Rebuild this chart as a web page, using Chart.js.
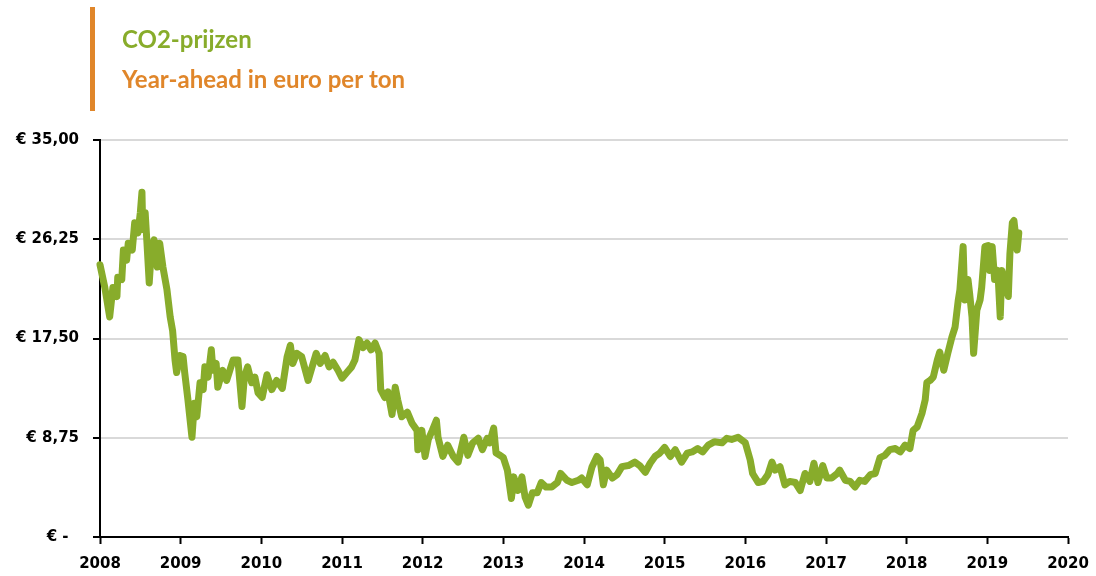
<!DOCTYPE html>
<html>
<head>
<meta charset="utf-8">
<script src="https://cdn.jsdelivr.net/npm/chart.js@4/dist/chart.umd.min.js"></script>
<style>
  html, body { margin: 0; padding: 0; background: #fff; }
  #wrap { width: 1096px; height: 576px; position: relative; }
</style>
</head>
<body>
<div id="wrap"><canvas id="grafico" width="1096" height="576"></canvas></div>
<script>
// CO2-prijzen, year-ahead (euro per ton)
const jaren = [
  2008.00, 2008.06, 2008.12, 2008.16, 2008.21, 2008.22, 2008.27, 2008.29, 2008.33, 2008.35,
  2008.40, 2008.43, 2008.47, 2008.50, 2008.52, 2008.53, 2008.56, 2008.58, 2008.61, 2008.64,
  2008.67, 2008.71, 2008.74, 2008.78, 2008.83, 2008.87, 2008.90, 2008.93, 2008.95, 2008.99,
  2009.03, 2009.05, 2009.09, 2009.14, 2009.17, 2009.20, 2009.24, 2009.28, 2009.30, 2009.34,
  2009.38, 2009.40, 2009.44, 2009.46, 2009.52, 2009.57, 2009.61, 2009.65, 2009.71, 2009.76,
  2009.79, 2009.83, 2009.88, 2009.92, 2009.96, 2010.01, 2010.07, 2010.13, 2010.19, 2010.26,
  2010.32, 2010.36, 2010.39, 2010.44, 2010.50, 2010.58, 2010.63, 2010.68, 2010.73, 2010.79,
  2010.84, 2010.89, 2010.95, 2011.00, 2011.06, 2011.12, 2011.16, 2011.21, 2011.26, 2011.31,
  2011.36, 2011.41, 2011.46, 2011.48, 2011.53, 2011.57, 2011.62, 2011.66, 2011.69, 2011.74,
  2011.81, 2011.87, 2011.93, 2011.94, 2011.99, 2012.03, 2012.07, 2012.12, 2012.17, 2012.19,
  2012.25, 2012.31, 2012.38, 2012.44, 2012.51, 2012.56, 2012.62, 2012.69, 2012.74, 2012.80,
  2012.83, 2012.88, 2012.91, 2012.96, 2013.00, 2013.05, 2013.10, 2013.13, 2013.18, 2013.23,
  2013.27, 2013.31, 2013.36, 2013.42, 2013.47, 2013.53, 2013.60, 2013.67, 2013.71, 2013.79,
  2013.85, 2013.93, 2013.97, 2014.04, 2014.10, 2014.16, 2014.20, 2014.24, 2014.28, 2014.35,
  2014.41, 2014.47, 2014.55, 2014.63, 2014.69, 2014.76, 2014.82, 2014.88, 2014.94, 2015.00,
  2015.07, 2015.13, 2015.21, 2015.28, 2015.34, 2015.41, 2015.47, 2015.54, 2015.62, 2015.71,
  2015.77, 2015.83, 2015.91, 2016.00, 2016.06, 2016.09, 2016.16, 2016.22, 2016.28, 2016.33,
  2016.37, 2016.43, 2016.49, 2016.55, 2016.62, 2016.68, 2016.74, 2016.80, 2016.85, 2016.90,
  2016.96, 2017.01, 2017.07, 2017.14, 2017.17, 2017.24, 2017.30, 2017.36, 2017.42, 2017.48,
  2017.55, 2017.61, 2017.67, 2017.73, 2017.79, 2017.86, 2017.92, 2017.98, 2018.04, 2018.08,
  2018.13, 2018.19, 2018.23, 2018.25, 2018.29, 2018.33, 2018.38, 2018.41, 2018.46, 2018.51,
  2018.56, 2018.60, 2018.64, 2018.66, 2018.70, 2018.72, 2018.76, 2018.78, 2018.81, 2018.83,
  2018.87, 2018.91, 2018.93, 2018.97, 2019.01, 2019.03, 2019.06, 2019.09, 2019.13, 2019.16,
  2019.18, 2019.22, 2019.26, 2019.28, 2019.31, 2019.33, 2019.37, 2019.39
];
const prijzen = [
  24.0, 22.0, 19.4, 22.0, 21.2, 22.9, 22.7, 25.3, 24.4, 25.9,
  25.3, 27.7, 26.8, 28.6, 30.4, 27.1, 28.6, 26.2, 22.4, 25.6,
  26.2, 23.8, 25.9, 23.8, 21.8, 19.4, 18.2, 15.6, 14.5, 16.0,
  15.9, 14.5, 12.1, 8.8, 11.8, 10.6, 13.6, 13.0, 15.0, 14.1,
  16.5, 14.7, 15.3, 13.2, 14.7, 13.8, 14.7, 15.6, 15.6, 11.5,
  14.1, 15.0, 13.6, 14.1, 12.7, 12.3, 14.3, 13.0, 13.8, 13.1,
  15.9, 16.9, 15.3, 16.2, 15.9, 13.8, 15.0, 16.2, 15.3, 16.0,
  15.0, 15.4, 14.7, 14.0, 14.5, 15.0, 15.6, 17.4, 16.7, 17.1,
  16.5, 17.1, 16.2, 13.0, 12.3, 12.8, 10.8, 13.2, 12.1, 10.6,
  11.0, 10.0, 9.4, 7.7, 9.4, 7.1, 8.6, 9.4, 10.3, 8.8,
  7.1, 8.1, 7.1, 6.6, 8.8, 7.2, 8.3, 8.7, 7.7, 8.7,
  8.3, 9.6, 7.4, 7.2, 7.0, 5.9, 3.4, 5.3, 4.1, 5.3,
  3.5, 2.8, 3.9, 3.9, 4.8, 4.4, 4.4, 4.8, 5.6, 5.0,
  4.8, 5.0, 5.2, 4.6, 6.2, 7.1, 6.8, 4.6, 5.9, 5.2,
  5.5, 6.2, 6.3, 6.6, 6.3, 5.7, 6.5, 7.1, 7.4, 7.9,
  7.1, 7.7, 6.6, 7.4, 7.5, 7.8, 7.5, 8.1, 8.4, 8.3,
  8.7, 8.6, 8.8, 8.3, 6.8, 5.6, 4.8, 4.9, 5.5, 6.6,
  5.9, 6.2, 4.6, 4.9, 4.8, 4.1, 5.6, 4.9, 6.5, 4.8,
  6.3, 5.2, 5.2, 5.6, 5.9, 5.0, 4.9, 4.4, 5.0, 4.9,
  5.5, 5.6, 7.0, 7.2, 7.7, 7.8, 7.5, 8.1, 7.8, 9.4,
  9.7, 10.9, 12.1, 13.6, 13.8, 14.1, 15.6, 16.3, 14.7, 16.2,
  17.6, 18.5, 20.9, 21.8, 25.6, 20.9, 22.7, 21.5, 19.4, 16.2,
  20.0, 20.9, 22.0, 25.6, 25.7, 23.5, 25.6, 22.7, 23.5, 19.4,
  23.5, 22.4, 21.2, 25.0, 27.7, 27.9, 25.3, 26.8
];
const yTicks = [0, 8.75, 17.5, 26.25, 35];
const xTicks = [2008, 2009, 2010, 2011, 2012, 2013, 2014, 2015, 2016, 2017, 2018, 2019, 2020];
const titel = "CO2-prijzen";
const subtitel = "Year-ahead in euro per ton";

const groen = "#88ac2b";
const oranje = "#e0862a";
const labelFont = { family: "DejaVu Sans", size: 15, weight: "bold" };

function euro(v) {
    if (v === 0) return "€ -  ";
    return "€ " + v.toFixed(2).replace(".", ",");
}

// titel met oranje streep links
const titelPlugin = {
    id: "titel",
    beforeDraw(c) {
        const ctx = c.ctx;
        ctx.save();
        ctx.fillStyle = oranje;
        ctx.fillRect(90, 7, 5, 104);
        ctx.font = "bold 24px Lato";
        ctx.textBaseline = "alphabetic";
        ctx.fillStyle = groen;
        ctx.fillText(titel, 122, 48);
        ctx.fillStyle = oranje;
        ctx.fillText(subtitel, 122, 88);
        ctx.restore();
    }
};

const ctx = document.getElementById("grafico").getContext("2d");
const chart = new Chart(ctx, {
    type: "line",
    data: {
        datasets: [{
            label: titel,
            data: jaren.map((j, i) => ({ x: j, y: prijzen[i] })),
            borderColor: groen,
            borderWidth: 7,
            borderJoinStyle: "round",
            borderCapStyle: "round",
            pointRadius: 0,
            tension: 0,
            fill: false,
            clip: false
        }]
    },
    options: {
        responsive: false,
        animation: false,
        layout: { padding: { top: 140, right: 28, left: 0, bottom: 0 } },
        plugins: {
            legend: { display: false },
            tooltip: { enabled: false }
        },
        scales: {
            x: {
                type: "linear",
                min: 2008,
                max: 2020,
                afterBuildTicks: s => { s.ticks = xTicks.map(v => ({ value: v })); },
                afterFit: s => { s.height = 39; s.paddingRight = 0; s.paddingLeft = 0; },
                ticks: {
                    color: "#000",
                    font: labelFont,
                    padding: 11,
                    maxRotation: 0,
                    callback: v => String(v)
                },
                grid: {
                    drawOnChartArea: false,
                    tickColor: "#000",
                    tickLength: 7,
                    tickWidth: 2
                },
                border: { color: "#000", width: 2 }
            },
            y: {
                min: 0,
                max: 35,
                afterBuildTicks: s => { s.ticks = yTicks.map(v => ({ value: v })); },
                afterFit: s => { s.width = 100; },
                ticks: {
                    color: "#000",
                    font: labelFont,
                    padding: 14,
                    callback: v => euro(v)
                },
                grid: {
                    color: "#d9d9d9",
                    lineWidth: 2,
                    tickColor: "#000",
                    tickLength: 7,
                    tickWidth: 2
                },
                border: { color: "#000", width: 2 }
            }
        }
    },
    plugins: [titelPlugin]
});
</script>
</body>
</html>
